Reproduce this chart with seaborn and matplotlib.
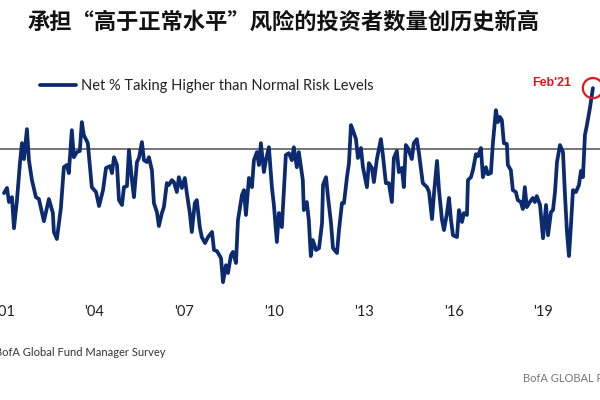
import matplotlib
matplotlib.use("Agg")
import matplotlib.pyplot as plt
from matplotlib import font_manager
import seaborn as sns
import pandas as pd
import numpy as np

# ---- data ----
# months elapsed since Jan 2001
months = [4.9, 6.1, 6.9, 8.1, 8.9, 10.1, 11.3, 12.1, 12.9, 14.1, 14.9, 16.1, 17.7, 18.9, 20.9, 22.9,
          24.5, 24.9, 26.1, 27.7, 28.9, 30.1, 30.9, 32.1, 32.9, 34.1, 35.3, 36.1, 36.9, 38.5, 40.1, 41.8,
          43.0, 44.6, 45.8, 47.4, 48.2, 49.0, 50.2, 51.0, 52.2, 53.0, 54.2, 55.0, 56.2, 57.0, 58.2, 59.0,
          60.2, 61.0, 62.2, 63.0, 64.2, 65.0, 66.2, 67.0, 68.2, 69.0, 70.2, 71.0, 72.2, 73.0, 74.2, 75.0,
          76.2, 77.4, 78.2, 79.4, 80.2, 81.4, 82.2, 83.4, 84.2, 85.5, 86.7, 88.3, 89.1, 90.3, 91.9, 92.7,
          93.9, 94.7, 95.9, 96.7, 97.9, 98.7, 100.3, 101.1, 101.9, 103.1, 104.3, 105.1, 106.3, 107.1, 107.9, 109.1,
          109.9, 111.1, 112.3, 113.1, 114.3, 115.1, 116.3, 117.1, 117.9, 119.1, 120.3, 121.1, 122.3, 123.1, 124.7, 125.1,
          126.3, 127.1, 127.9, 128.7, 130.0, 131.2, 132.4, 132.8, 134.0, 134.8, 136.0, 136.8, 138.4, 139.2, 140.4, 141.2,
          142.4, 143.2, 144.0, 144.8, 146.0, 146.8, 148.0, 148.8, 150.4, 151.2, 152.4, 153.2, 154.4, 156.0, 156.8, 158.0,
          159.2, 160.4, 161.2, 162.4, 163.2, 164.4, 165.2, 166.0, 166.8, 168.4, 169.2, 170.4, 171.2, 172.0, 172.8, 174.5,
          175.3, 176.5, 177.3, 178.5, 179.3, 180.5, 181.3, 182.5, 183.3, 184.1, 184.9, 186.5, 187.3, 188.5, 189.3, 190.5,
          190.9, 192.1, 192.9, 194.1, 194.9, 196.1, 196.9, 198.1, 198.9, 200.1, 200.9, 202.1, 202.9, 203.7, 204.5, 205.3,
          206.5, 206.9, 208.1, 208.9, 210.1, 210.9, 212.1, 212.9, 213.7, 214.5, 215.7, 216.9, 217.7, 218.5, 219.8, 221.0,
          222.2, 223.0, 224.2, 225.0, 225.8, 226.6, 227.8, 229.0, 229.8, 230.6, 231.4, 232.2, 233.0, 234.2, 235.4, 236.2,
          237.0, 237.8, 238.6, 239.8, 241.0]
net_pct = [-16.3, -14.4, -19.6, -17.8, -29.3, -18.9, -5.2, 2.2, -3.7, 7.4, -4.1, -11.5, -17.8, -18.5, -26.7, -18.5,
           -23.7, -30.7, -33.3, -21.9, -6.7, -5.9, -8.9, 7.0, -3.0, -1.1, -0.7, 10.0, 5.2, 2.2, -14.1, -15.9,
           -21.1, -15.2, -7.0, -6.3, -8.9, -3.0, -5.9, -18.9, -20.7, -14.1, -13.7, -0.4, -11.5, -17.8, -4.8, -3.3,
           2.6, -4.1, -4.8, -3.0, -7.8, -20.0, -23.3, -28.5, -23.7, -21.5, -12.6, -13.3, -11.5, -12.2, -15.9, -10.4,
           -14.4, -10.7, -16.3, -23.7, -30.7, -20.0, -18.9, -28.9, -32.6, -34.8, -32.6, -30.7, -37.4, -37.8, -40.4, -49.3,
           -43.0, -45.9, -39.3, -38.1, -42.2, -26.3, -17.0, -15.2, -24.4, -10.7, -14.1, -4.1, -1.1, -5.9, 2.2, -8.5,
           -4.1, 0.7, -14.1, -20.7, -34.4, -23.7, -28.9, -15.2, -2.2, -1.5, -4.1, 0.7, -6.7, -1.1, -11.5, -22.6,
           -19.6, -26.3, -39.6, -33.7, -37.4, -36.7, -27.4, -13.3, -10.4, -17.8, -27.4, -36.7, -38.5, -30.0, -20.0, -20.0,
           -10.4, -5.2, 8.9, 7.0, 3.7, -3.3, 0.4, -6.7, -14.1, -5.2, -7.0, -12.2, -3.7, 3.7, -2.2, -12.6,
           -12.6, -19.6, -3.3, -0.7, -8.5, -7.0, -14.1, 1.5, 0.4, -3.7, 2.2, 3.7, -1.1, -7.0, -12.6, -14.1,
           -15.9, -25.9, -16.3, -4.4, -15.2, -26.3, -30.0, -23.7, -18.1, -26.3, -31.9, -32.6, -22.6, -27.0, -23.7, -24.4,
           -11.5, -10.4, -7.8, -1.9, -2.6, 0.4, -10.4, -6.7, -9.3, -8.9, 2.2, 14.4, 10.0, 11.9, 10.7, 2.2,
           1.9, -5.9, -7.8, -15.2, -15.9, -18.9, -19.6, -22.2, -14.1, -21.5, -19.6, -18.1, -19.6, -17.4, -20.7, -33.0,
           -20.7, -31.9, -23.3, -22.6, -15.9, -4.8, 1.5, -1.1, -17.0, -30.7, -39.6, -28.1, -15.2, -15.9, -13.3, -8.1,
           -10.4, 5.2, 8.9, 15.2, 22.6]
tick_years = [2001, 2004, 2007, 2010, 2013, 2016, 2019]
tick_labels = ["'01", "'04", "'07", "'10", "'13", "'16", "'19"]
series_name = "Net % Taking Higher than Normal Risk Levels"
title = "承担“高于正常水平”风险的投资者数量创历史新高"
source = "BofA Global Fund Manager Survey"
brand = "BofA GLOBAL RESEARCH"
callout = "Feb'21"

df = pd.DataFrame({"date": 2001 + np.array(months) / 12.0, "value": net_pct})

# ---- style ----
sns.set_theme(style="white")
plt.rcParams["font.family"] = ["Lato", "DejaVu Sans"]

installed = {f.name for f in font_manager.fontManager.ttflist}
narrow = "Liberation Sans Narrow" if "Liberation Sans Narrow" in installed else "Lato"
narrow_size = 9.5 if narrow == "Liberation Sans Narrow" else 8.0

NAVY = "#0b2a6f"
RED = "#e3171e"

fig = plt.figure(figsize=(6, 4), dpi=100)
ax = fig.add_axes([0, 1 - 300 / 400, 1, 230 / 400])

sns.lineplot(data=df, x="date", y="value", ax=ax, color=NAVY, linewidth=2.7,
             label=series_name, zorder=3)
ax.axhline(0, color="#6b6b6b", linewidth=1.3, zorder=2)

# callout for last point
last = df.iloc[-1]
ax.scatter([last["date"]], [last["value"]], s=210, facecolors="none",
           edgecolors=RED, linewidths=1.6, zorder=4)
ax.annotate(callout, xy=(last["date"], last["value"]), xytext=(-29.5, 3.5),
            textcoords="offset points", ha="center", va="center",
            color=RED, fontsize=9, fontweight="bold", family=["Liberation Sans"])

ax.set_xlim(2001.275, 2021.32)
ax.set_ylim(-55.9, 29.3)
ax.set_xticks([y + 0.43 for y in tick_years])
ax.set_xticklabels(tick_labels)
ax.tick_params(axis="x", length=0, labelsize=10.5, colors="#222222", pad=3.5)
ax.set_yticks([])
ax.set_xlabel("")
ax.set_ylabel("")
for s in ax.spines.values():
    s.set_visible(False)
ax.patch.set_alpha(0)

leg = ax.legend(loc="upper left", bbox_to_anchor=(40 / 600, 1 - 79 / 400),
                bbox_transform=fig.transFigure, frameon=False, fontsize=10.5,
                handlelength=2.45, handletextpad=0.35, borderpad=0, borderaxespad=0)
for t in leg.get_texts():
    t.set_color("#222222")

fig.text(28 / 600, 1 - 22 / 400, title, fontsize=16, fontweight="bold",
         family=["Noto Sans CJK SC", "DejaVu Sans"], va="center", ha="left",
         color="#111111")
fig.text(-5 / 600, 1 - 352 / 400, source, fontsize=narrow_size, va="center", ha="left",
         color="#333333", family=[narrow])
fig.text(523 / 600, 1 - 378 / 400, brand, fontsize=narrow_size, va="center", ha="left",
         color="#777777", family=[narrow])

fig.savefig("out.png", dpi=100)
